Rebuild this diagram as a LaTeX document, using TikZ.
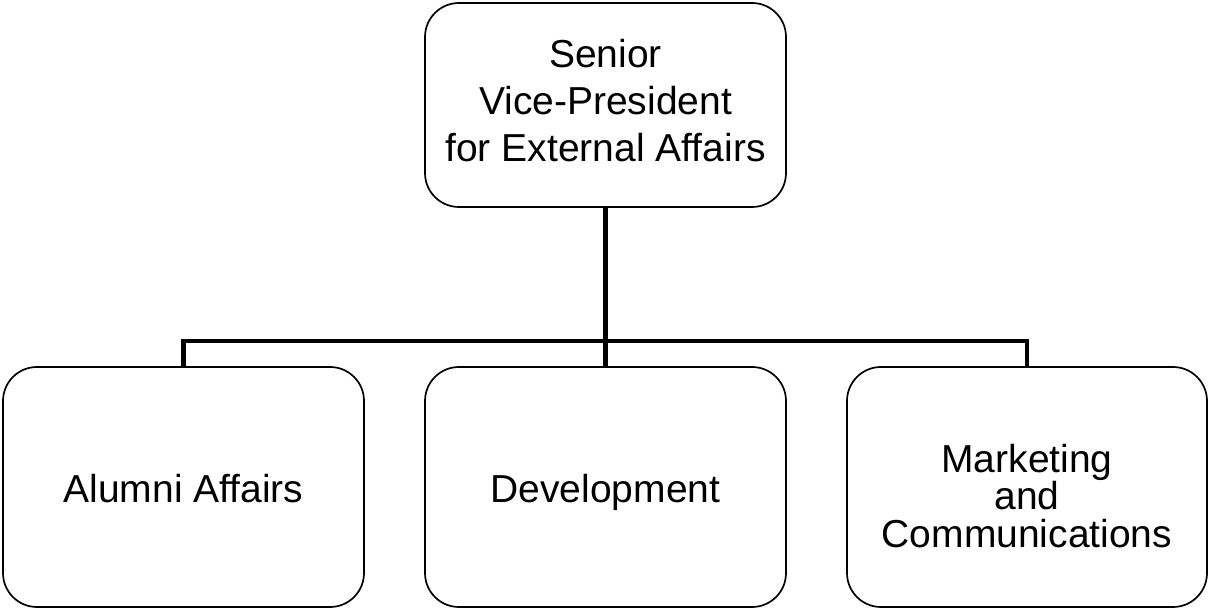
\documentclass[tikz,border=0pt]{standalone}
\usepackage{fontspec}
\setmainfont{Liberation Sans}
\begin{document}
\begin{tikzpicture}[x=1pt,y=-1pt,
  orgbox/.style={draw=black, line width=1.7pt, rounded corners=34pt, fill=white,
    inner sep=0pt, minimum width=361pt, align=center,
    font=\fontsize{39}{47}\selectfont},
  link/.style={draw=black, line width=4.8pt}]
\useasboundingbox[fill=white] (0,0) rectangle (1213,609);
\node[orgbox, minimum height=204pt, text height=124pt, text depth=10pt] (top) at (605.5,105) {Senior\\Vice-President\\for External Affairs};
\node[orgbox, minimum height=240pt, text height=30pt, text depth=0pt] (alumni) at (183.5,487) {Alumni Affairs};
\node[orgbox, minimum height=240pt, text height=30pt, text depth=0pt] (dev) at (605.5,487) {Development};
\node[orgbox, minimum height=240pt, minimum width=360pt, text height=120pt, text depth=0pt, font=\fontsize{39}{37.5}\selectfont] (mkt) at (1027,487) {Marketing\\and\\Communications};
\coordinate (bus) at (605.5,341);
\draw[link] (top.south) -- (bus);
\draw[link] (alumni.north) |- (bus);
\draw[link] (mkt.north) |- (bus);
\draw[link] (dev.north) -- (bus);
\end{tikzpicture}
\end{document}
